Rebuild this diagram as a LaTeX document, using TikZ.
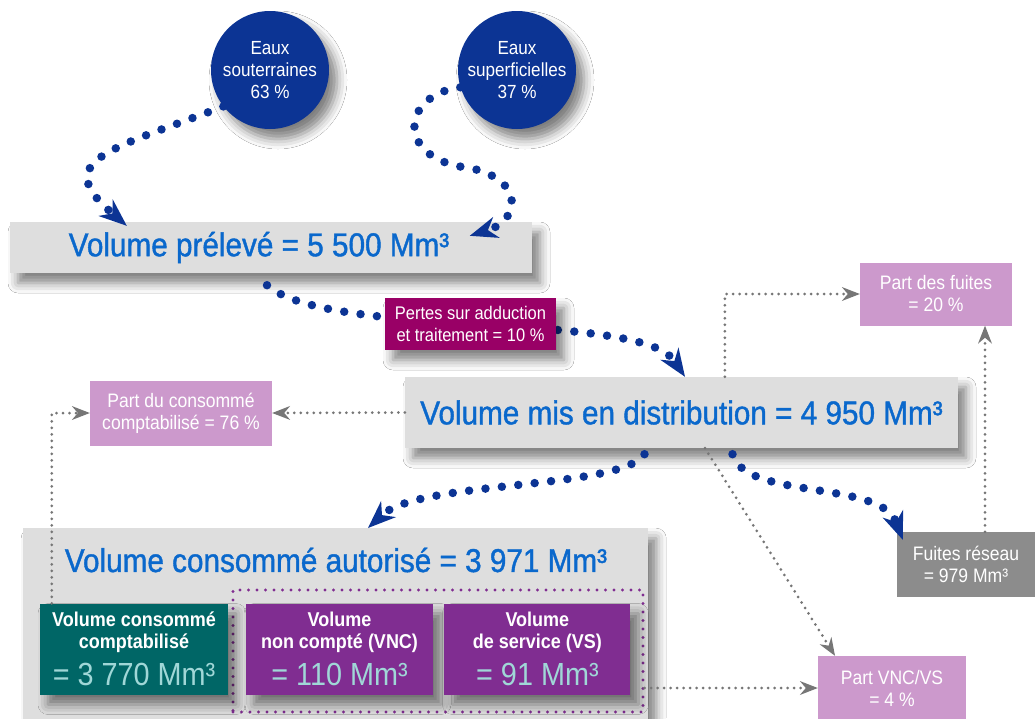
\documentclass[tikz,border=0pt]{standalone}
\usepackage{fontspec}
\setmainfont{Liberation Sans}[FakeStretch=0.9]
\newfontfamily\heavy{Liberation Sans}[FakeStretch=0.9,FakeBold=1.2]
\usetikzlibrary{arrows.meta,shadows.blur,positioning}
\definecolor{txtblue}{RGB}{10,104,204}
\definecolor{navy}{RGB}{12,52,148}
\definecolor{boxgray}{RGB}{222,222,222}
\definecolor{wine}{RGB}{153,0,102}
\definecolor{lilac}{RGB}{204,153,204}
\definecolor{darkteal}{RGB}{0,102,102}
\definecolor{purp}{RGB}{128,45,145}
\definecolor{leakgray}{RGB}{140,140,140}
\definecolor{dotgray}{RGB}{118,118,118}
\definecolor{pale}{RGB}{160,215,215}
\newcommand\amount[1]{{\mdseries\color{pale}\fontsize{32}{36}\selectfont #1}}

\begin{document}
\begin{tikzpicture}[x=1pt,y=-1pt,
  softshadow/.style={blur shadow={shadow xshift=8pt,shadow yshift=-10pt,
                     shadow blur radius=10pt,shadow opacity=50}},
  water/.style={circle,fill=navy,text=white,minimum size=118pt,inner sep=0pt,
                align=center,font=\fontsize{19}{22}\selectfont,softshadow},
  bigbox/.style={fill=boxgray,text=txtblue,inner sep=0pt,
                 font=\heavy\fontsize{33}{38}\selectfont,softshadow},
  share/.style={fill=lilac,text=white,align=center,inner sep=0pt,
                font=\fontsize{19.5}{22}\selectfont},
  sub/.style={text=white,align=center,inner sep=0pt,minimum height=91pt,
              font=\bfseries\fontsize{20}{22}\selectfont,softshadow},
  flow/.style={navy,line width=8.5pt,line cap=round,dash pattern=on 0pt off 16.5pt,
               -{Stealth[length=28pt,width=22pt,inset=9pt,line width=0pt]}},
  link/.style={dotgray,line width=3pt,line cap=round,dash pattern=on 0pt off 6.5pt,
               -{Stealth[length=18pt,width=14pt,inset=6pt,line width=0pt]}}]

  \useasboundingbox[fill=white] (0,0) rectangle (1035,718);

  \node[water]                  (sout)  at (270,70)  {Eaux\\souterraines\\63 \%};
  \node[water]                  (super) at (517,70)  {Eaux\\superficielles\\37 \%};
  \node[bigbox,minimum width=522pt,minimum height=51pt] (prel) at (271,247.5)
        {\hspace*{-24pt}Volume prélevé = 5 500 Mm³};
  \node[bigbox,minimum width=553pt,minimum height=71pt] (dist) at (681.5,412.5)
        {Volume mis en distribution = 4 950 Mm³};
  \node[bigbox,minimum width=625pt,minimum height=200pt,anchor=north west] (used) at (23,528) {};
  \node[text=txtblue,font=\heavy\fontsize{33}{38}\selectfont] (usedtxt) at (336,560)
        {Volume consommé autorisé = 3 971 Mm³};

  \node[share,minimum width=152pt,minimum height=63pt] (share20) at (936,294)
        {Part des fuites\\= 20 \%};
  \node[share,minimum width=182pt,minimum height=65pt] (sharecc) at (181,413)
        {Part du consommé\\comptabilisé = 76 \%};
  \node[share,minimum width=148pt,minimum height=64pt] (sharevnc) at (892,688)
        {Part VNC/VS\\= 4 \%};
  \node[fill=leakgray,text=white,align=center,inner sep=0pt,minimum width=138pt,
        minimum height=65pt,font=\fontsize{19.5}{22}\selectfont] (leak) at (966,564.5)
        {Fuites réseau\\= 979 Mm³};

  \node[draw=purp,line width=3.2pt,line cap=round,dash pattern=on 0pt off 8.5pt,
        minimum width=410pt,minimum height=122pt] (grp) at (438,651) {};
  \node[sub,fill=darkteal,minimum width=188pt] (vcc) at (134,649)
        {Volume consommé\\comptabilisé\\[9pt]\amount{= 3 770 Mm³}};
  \node[sub,fill=purp,minimum width=187pt] (vnc) at (339.5,649)
        {Volume\\non compté (VNC)\\[9pt]\amount{= 110 Mm³}};
  \node[sub,fill=purp,minimum width=186pt,right=11pt of vnc] (vs)
        {Volume\\de service (VS)\\[9pt]\amount{= 91 Mm³}};

  \draw[flow] (sout.218) .. controls (110,150) and (50,160) .. ([shift={(117,4)}]prel.north west);
  \draw[flow] (super.197) .. controls (400,95) and (395,160) .. (470,168)
                          .. controls (525,180) and (520,220) .. ([shift={(460,14)}]prel.north west);
  \draw[flow] ([shift={(-4,12)}]prel.south) .. controls (330,340) and (640,310) .. ([xshift=3.5pt]dist.north);
  \draw[flow] ([shift={(-37,6)}]dist.south) .. controls (620,490) and (420,480) .. ([xshift=345pt]used.north west);
  \draw[flow] ([shift={(51,6)}]dist.south) .. controls (745,500) and (880,480) .. ([shift={(6,8)}]leak.north west);

  \node[fill=wine,text=white,align=center,inner sep=0pt,minimum width=171pt,
        minimum height=52pt,font=\fontsize{18.3}{22}\selectfont,softshadow] (pertes) at (470.5,324)
        {Pertes sur adduction\\et traitement = 10 \%};

  \draw[link] (dist.west) -- (sharecc.east);
  \draw[link] ([xshift=12pt]vcc.north west) |- (sharecc.west);
  \draw[link] ([xshift=320pt]dist.north west) |- (share20.west);
  \draw[link] ([xshift=19pt]leak.north) -- ([xshift=19pt]leak.north |- share20.south);
  \draw[link] ([xshift=23.5pt]dist.south) -- ([xshift=-57pt]sharevnc.north);
  \draw[link] (grp.east |- sharevnc.west) -- (sharevnc.west);
\end{tikzpicture}
\end{document}
